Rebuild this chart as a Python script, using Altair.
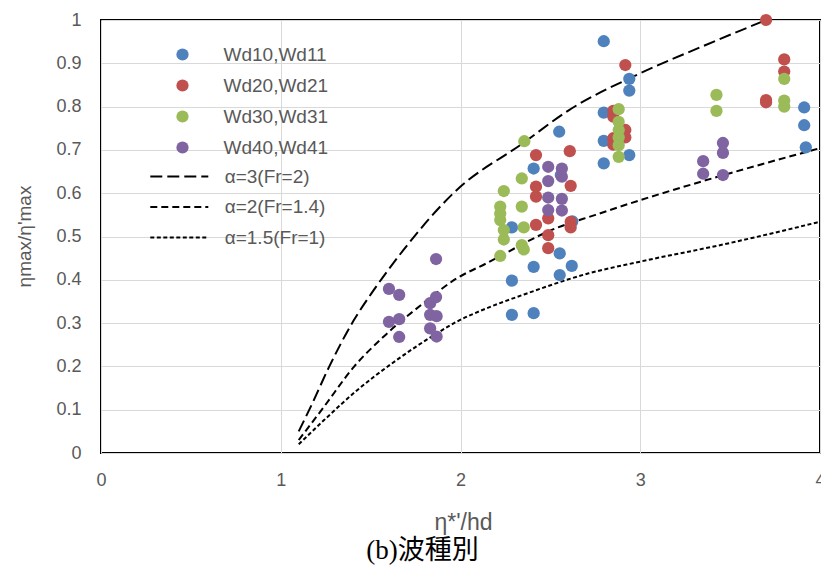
import altair as alt
import pandas as pd

# ---------------- data ----------------
series_names = ["Wd10,Wd11", "Wd20,Wd21", "Wd30,Wd31", "Wd40,Wd41"]
series_colors = ["#4F81BD", "#C0504D", "#9BBB59", "#8064A2"]

wd1_x = [2.286, 2.286, 2.286, 2.407, 2.407, 2.407, 2.549, 2.558, 2.552, 2.552, 2.619, 2.622,
         2.797, 2.797, 2.797, 2.797, 2.939, 2.939, 2.939, 3.912, 3.912, 3.921]
wd1_y = [0.521, 0.398, 0.319, 0.657, 0.430, 0.323, 0.742, 0.642, 0.461, 0.411, 0.432, 0.535,
         0.951, 0.786, 0.721, 0.669, 0.864, 0.837, 0.688, 0.798, 0.757, 0.706]

wd2_x = [2.42, 2.42, 2.42, 2.42, 2.488, 2.488, 2.488, 2.608, 2.613, 2.613, 2.613,
         2.85, 2.85, 2.85, 2.85, 2.917, 2.917, 2.917, 3.70, 3.70, 3.70, 3.801, 3.801]
wd2_y = [0.688, 0.615, 0.592, 0.527, 0.542, 0.503, 0.473, 0.697, 0.617, 0.534, 0.521,
         0.790, 0.777, 0.727, 0.712, 0.896, 0.746, 0.729, 1.0, 0.815, 0.810, 0.909, 0.881]

wd3_x = [2.221, 2.221, 2.221, 2.221, 2.241, 2.241, 2.241, 2.341, 2.341, 2.341, 2.352, 2.352, 2.355,
         2.88, 2.88, 2.88, 2.88, 2.88, 2.88, 3.424, 3.424, 3.801, 3.801, 3.801]
wd3_y = [0.569, 0.553, 0.538, 0.455, 0.605, 0.515, 0.493, 0.634, 0.569, 0.480, 0.521, 0.470, 0.720,
         0.794, 0.765, 0.746, 0.729, 0.711, 0.684, 0.827, 0.790, 0.864, 0.814, 0.800]

wd4_x = [1.602, 1.659, 1.602, 1.659, 1.659, 1.864, 1.864, 1.831, 1.831, 1.867, 1.831, 1.867,
         2.488, 2.488, 2.488, 2.488, 2.564, 2.564, 2.564, 2.564, 3.35, 3.35, 3.46, 3.46, 3.46]
wd4_y = [0.379, 0.365, 0.303, 0.309, 0.268, 0.448, 0.360, 0.346, 0.319, 0.316, 0.288, 0.269,
         0.661, 0.628, 0.590, 0.561, 0.657, 0.638, 0.587, 0.560, 0.674, 0.645, 0.716, 0.693, 0.642]

curve_names = ["α=3(Fr=2)", "α=2(Fr=1.4)", "α=1.5(Fr=1)"]
a3_x = [1.10, 1.167, 1.269, 1.407, 1.517, 1.683, 1.978, 2.346, 2.604, 2.99, 3.34, 3.70]
a3_y = [0.05, 0.107, 0.199, 0.307, 0.376, 0.469, 0.607, 0.715, 0.792, 0.875, 0.938, 1.0]
a2_x = [1.10, 1.241, 1.407, 1.573, 1.794, 1.978, 2.144, 2.530, 2.751, 3.0, 3.341, 4.0]
a2_y = [0.03, 0.107, 0.199, 0.269, 0.346, 0.403, 0.438, 0.519, 0.550, 0.584, 0.627, 0.704]
a15_x = [1.10, 1.241, 1.425, 1.646, 1.867, 1.978, 2.144, 2.346, 2.714, 3.0, 3.488, 4.0]
a15_y = [0.02, 0.076, 0.145, 0.215, 0.276, 0.303, 0.334, 0.365, 0.415, 0.442, 0.484, 0.534]

x_ticks = [0, 1, 2, 3, 4]
y_ticks = [0, 0.1, 0.2, 0.3, 0.4, 0.5, 0.6, 0.7, 0.8, 0.9, 1.0]

# ---------------- tables ----------------
rows = []
for name, xs, ys in zip(series_names, [wd1_x, wd2_x, wd3_x, wd4_x], [wd1_y, wd2_y, wd3_y, wd4_y]):
    for a, b in zip(xs, ys):
        rows.append({"series": name, "x": a, "y": b, "idx": len(rows)})
pts = pd.DataFrame(rows)

lrows = []
for name, xs, ys in zip(curve_names, [a3_x, a2_x, a15_x], [a3_y, a2_y, a15_y]):
    for a, b in zip(xs, ys):
        lrows.append({"curve": name, "x": a, "y": b})
lns = pd.DataFrame(lrows)

FONT = "Liberation Sans"
GREY = "#595959"

x_scale = alt.Scale(domain=[0, 4], nice=False, zero=False)
y_scale = alt.Scale(domain=[0, 1], nice=False)

x_axis = alt.Axis(values=x_ticks, format="d", grid=True, gridColor="#D9D9D9", domain=False,
                  ticks=False, labelFontSize=18, labelColor=GREY, labelFont=FONT,
                  labelPadding=18, labelFlush=False, title="η*'/hd", titleFont=FONT,
                  titleFontSize=23, titleFontWeight="normal", titleColor=GREY,
                  titleX=362, titleY=69, titleBaseline="middle", titleAlign="center")
y_axis = alt.Axis(values=y_ticks, format=".1~f", grid=True, gridColor="#D9D9D9", domain=False,
                  ticks=False, labelFontSize=18, labelColor=GREY, labelFont=FONT,
                  labelPadding=20, labelFlush=False, title="ηmax/η'max", titleFont=FONT,
                  titleFontSize=19, titleFontWeight="normal", titleColor=GREY,
                  titleX=-77, titleY=216, titleAngle=-90, titleBaseline="middle",
                  titleAlign="center")

lines = alt.Chart(lns).mark_line(color="black", strokeWidth=2, interpolate="monotone").encode(
    x=alt.X("x:Q", scale=x_scale, axis=x_axis),
    y=alt.Y("y:Q", scale=y_scale, axis=y_axis),
    strokeDash=alt.StrokeDash(
        "curve:N",
        scale=alt.Scale(domain=curve_names, range=[[12, 5], [7, 4], [4, 2.5]]),
        sort=curve_names,
        legend=alt.Legend(orient="none", legendX=67.3, legendY=145.5, title=None,
                          symbolType="M-3,0H3", symbolSize=374, symbolStrokeColor="black",
                          symbolStrokeWidth=2, symbolFillColor="transparent",
                          labelFont=FONT, labelFontSize=19,
                          labelColor=GREY, labelOffset=34.4, rowPadding=9.5, padding=0),
    ),
)

points = alt.Chart(pts).mark_circle(size=150, opacity=1).encode(
    x=alt.X("x:Q", scale=x_scale),
    y=alt.Y("y:Q", scale=y_scale),
    color=alt.Color(
        "series:N",
        scale=alt.Scale(domain=series_names, range=series_colors),
        legend=alt.Legend(orient="none", legendX=72, legendY=25, title=None,
                          symbolType="circle", symbolSize=150, symbolOpacity=1,
                          labelFont=FONT, labelFontSize=19, labelColor=GREY,
                          labelOffset=31.5, rowPadding=11, padding=0),
    ),
    order=alt.Order("idx:Q"),
)

chart = alt.layer(lines, points).properties(
    width=719,
    height=433,
    autosize=alt.AutoSizeParams(type="none"),
    padding={"left": 93, "top": 12, "right": 1, "bottom": 114},
    title=alt.TitleParams("(b)波種別", orient="bottom", anchor="middle", dx=-38, offset=4,
                          font="Liberation Serif, 'Noto Sans CJK JP'", fontSize=27,
                          fontWeight="normal", color="black"),
).configure_view(stroke="black", strokeWidth=2)

chart.save("out.html", embed_options={"renderer": "svg", "actions": False})
